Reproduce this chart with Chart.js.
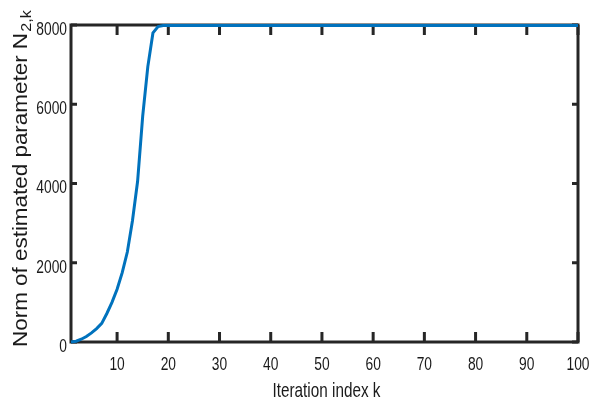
<!DOCTYPE html>
<html>
<head>
<meta charset="utf-8">
<script src="https://cdn.jsdelivr.net/npm/chart.js@4.4.1/dist/chart.umd.min.js"></script>
<style>
html,body{margin:0;padding:0;background:#fff;}
#c{display:block;}
</style>
</head>
<body>
<canvas id="c" width="598" height="405"></canvas>
<script>
const iterations = [1,2,3,4,5,6,7,8,9,10,11,12,13,14,15,16,17,18,19,20,
21,22,23,24,25,26,27,28,29,30,31,32,33,34,35,36,37,38,39,40,
41,42,43,44,45,46,47,48,49,50,51,52,53,54,55,56,57,58,59,60,
61,62,63,64,65,66,67,68,69,70,71,72,73,74,75,76,77,78,79,80,
81,82,83,84,85,86,87,88,89,90,91,92,93,94,95,96,97,98,99,100];
const normValues = [0,20,70,140,230,340,470,720,1000,1330,1750,2270,3060,4050,5700,6950,7800,7960,7985,7985,
7985,7985,7985,7985,7985,7985,7985,7985,7985,7985,7985,7985,7985,7985,7985,7985,7985,7985,7985,7985,
7985,7985,7985,7985,7985,7985,7985,7985,7985,7985,7985,7985,7985,7985,7985,7985,7985,7985,7985,7985,
7985,7985,7985,7985,7985,7985,7985,7985,7985,7985,7985,7985,7985,7985,7985,7985,7985,7985,7985,7985,
7985,7985,7985,7985,7985,7985,7985,7985,7985,7985,7985,7985,7985,7985,7985,7985,7985,7985,7985,7985];
const xTickValues = [10,20,30,40,50,60,70,80,90,100];
const yTickValues = [0,2000,4000,6000,8000];
const xTickLabels = ['10','20','30','40','50','60','70','80','90','100'];
const yTickLabels = ['0','2000','4000','6000','8000'];
const xTitle = 'Iteration index k';
const yTitleMain = 'Norm of estimated parameter N';
const yTitleSub = '2,k';

const AXIS_COLOR = '#262626';
const TEXT_COLOR = '#1a1a1a';
const LINE_COLOR = '#0072BD';
const FONT = '"Liberation Sans", Arial, sans-serif';

function stretchedText(ctx, text, x, y, size, sy, align) {
  ctx.save();
  ctx.translate(x, y);
  ctx.scale(1, sy);
  ctx.font = size + 'px ' + FONT;
  ctx.textAlign = align;
  ctx.textBaseline = 'alphabetic';
  ctx.fillText(text, 0, 0);
  ctx.restore();
}

const boxPlugin = {
  id: 'box',
  beforeDatasetsDraw(chart) {
    const ctx = chart.ctx, a = chart.chartArea;
    const xs = chart.scales.x, ys = chart.scales.y;
    ctx.save();
    ctx.strokeStyle = AXIS_COLOR;
    ctx.lineWidth = 3;
    ctx.beginPath();
    xTickValues.forEach(v => {
      const px = xs.getPixelForValue(v);
      ctx.moveTo(px, a.bottom); ctx.lineTo(px, a.bottom - 10);
      ctx.moveTo(px, a.top); ctx.lineTo(px, a.top + 10);
    });
    yTickValues.forEach(v => {
      const py = ys.getPixelForValue(v);
      ctx.moveTo(a.left, py); ctx.lineTo(a.left + 6, py);
      ctx.moveTo(a.right, py); ctx.lineTo(a.right - 6, py);
    });
    ctx.stroke();
    ctx.lineJoin = 'miter';
    ctx.strokeRect(a.left, a.top, a.right - a.left, a.bottom - a.top);

    // tick labels
    ctx.fillStyle = TEXT_COLOR;
    xTickValues.forEach((v, i) => {
      stretchedText(ctx, xTickLabels[i], xs.getPixelForValue(v), a.bottom + 28, 13.8, 1.36, 'center');
    });
    yTickValues.forEach((v, i) => {
      stretchedText(ctx, yTickLabels[i], a.left - 4, ys.getPixelForValue(v) + 9.8, 13.8, 1.36, 'right');
    });
    // x title
    stretchedText(ctx, xTitle, (a.left + a.right) / 2 + 2, 397, 15.3, 1.34, 'center');
    ctx.restore();
  },
  afterDraw(chart) {
    const ctx = chart.ctx;
    ctx.save();
    ctx.fillStyle = TEXT_COLOR;
    ctx.translate(27, 347);
    ctx.rotate(-Math.PI / 2);
    ctx.scale(1.15, 1);
    ctx.font = '19.5px ' + FONT;
    ctx.textBaseline = 'alphabetic';
    ctx.textAlign = 'left';
    ctx.fillText(yTitleMain, 0, 0);
    const w = ctx.measureText(yTitleMain).width;
    ctx.font = '14px ' + FONT;
    ctx.fillText(yTitleSub, w + 1, 4);
    ctx.restore();
  }
};

new Chart(document.getElementById('c'), {
  type: 'line',
  data: {
    datasets: [{
      data: iterations.map((k, i) => ({x: k, y: normValues[i]})),
      borderColor: LINE_COLOR,
      borderWidth: 3,
      pointRadius: 0,
      tension: 0,
      fill: false,
      clip: false
    }]
  },
  options: {
    responsive: false,
    animation: false,
    devicePixelRatio: 1,
    layout: { padding: { left: 0, right: 20, top: 25, bottom: 0 } },
    plugins: { legend: { display: false }, tooltip: { enabled: false } },
    scales: {
      x: {
        type: 'linear',
        min: 1, max: 100,
        afterBuildTicks: s => { s.ticks = xTickValues.map(v => ({ value: v })); },
        afterFit: s => { s.height = 63; },
        grid: { display: false, drawTicks: false },
        border: { display: false },
        ticks: { display: false },
        title: { display: false, text: xTitle }
      },
      y: {
        type: 'linear',
        min: 0, max: 8000,
        afterBuildTicks: s => { s.ticks = yTickValues.map(v => ({ value: v })); },
        afterFit: s => { s.width = 71; },
        grid: { display: false, drawTicks: false },
        border: { display: false },
        ticks: { display: false }
      }
    }
  },
  plugins: [boxPlugin]
});
</script>
</body>
</html>
